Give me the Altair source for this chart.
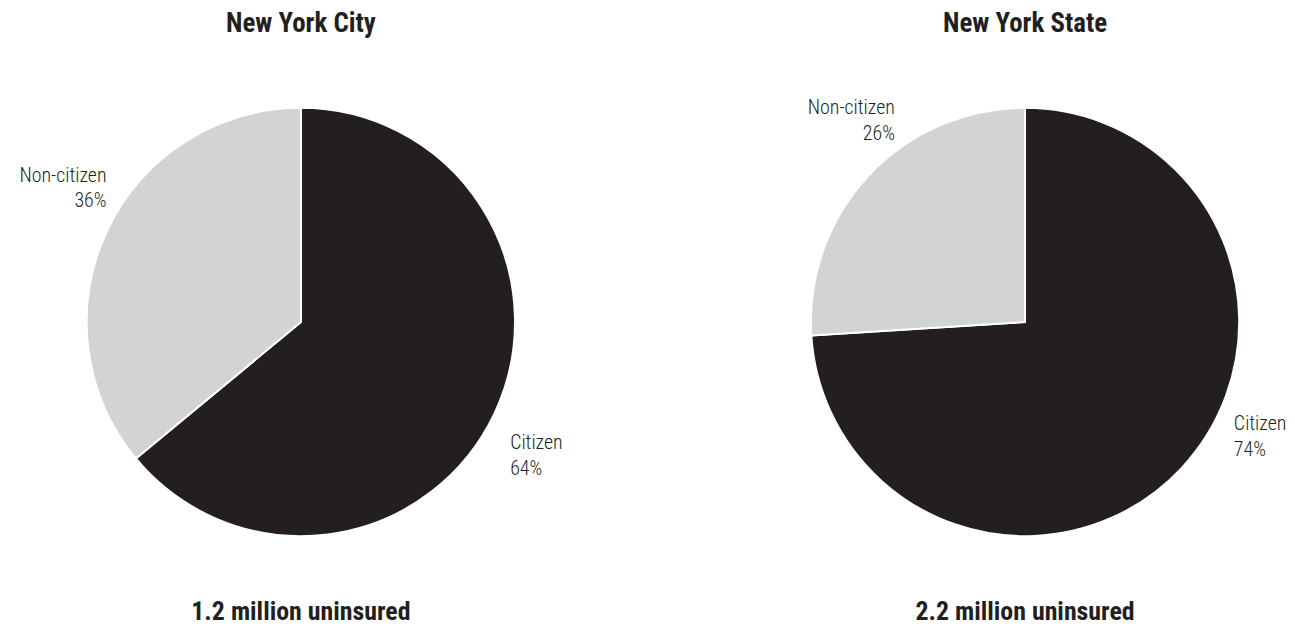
import altair as alt
import pandas as pd

regions = ["New York City", "New York State"]
categories = ["Citizen", "Non-citizen"]
nyc_values = [64, 36]
nys_values = [74, 26]
totals = ["1.2 million uninsured", "2.2 million uninsured"]
colors = ["#231f20", "#d1d3d4"]

FONT = "Roboto Condensed, Roboto, sans-serif"
CX, CY, R = 294, 313, 215
LR = 230
H = 600
widths = {"New York City": 552, "New York State": 557}

# per-panel label nudges (dx, dy) for Citizen / Non-citizen
nudges = {
    "New York City": {"Citizen": (2, 24), "Non-citizen": (13, -49)},
    "New York State": {"Citizen": (42, -55), "Non-citizen": (37, -57)},
}


def panel(region, values, total):
    df = pd.DataFrame({
        "category": categories,
        "value": values,
        "order": list(range(len(categories))),
    })
    df["label"] = df["category"] + "\n" + df["value"].astype(str) + "%"
    base = alt.Chart(df).encode(
        theta=alt.Theta("value:Q", stack=True),
        order=alt.Order("order:Q"),
        x=alt.value(CX),
        y=alt.value(CY),
    )
    arc = base.mark_arc(radius=R, stroke="white", strokeWidth=2).encode(
        color=alt.Color("category:N", scale=alt.Scale(domain=categories, range=colors), legend=None)
    )
    layers = [arc]
    for cat in categories:
        dx, dy = nudges[region][cat]
        t = base.mark_text(
            radius=LR, dx=dx, dy=dy, align="left" if cat == "Citizen" else "right",
            baseline="middle", lineBreak="\n", lineHeight=26, fontSize=20,
            font=FONT, fontWeight=300, color="#231f20",
        ).encode(text=alt.condition(alt.datum.category == cat, alt.Text("label:N"), alt.value("")))
        layers.append(t)
    head = alt.Chart(pd.DataFrame({"t": [region]})).mark_text(
        font=FONT, fontSize=27, fontWeight="bold", color="#231f20", baseline="middle"
    ).encode(text="t:N", x=alt.value(CX), y=alt.value(13.5))
    foot = alt.Chart(pd.DataFrame({"t": [total]})).mark_text(
        font=FONT, fontSize=26, fontWeight="bold", color="#231f20", baseline="middle"
    ).encode(text="t:N", x=alt.value(CX), y=alt.value(604))
    layers += [head, foot]
    return alt.layer(*layers).properties(width=widths[region], height=H)


chart = alt.hconcat(
    panel(regions[0], nyc_values, totals[0]),
    panel(regions[1], nys_values, totals[1]),
    spacing=170,
).properties(
    padding={"left": 0, "top": 0, "right": 0, "bottom": 0},
    background="white",
).configure_view(strokeWidth=0, stroke="transparent")

chart.save("out.html", embed_options={"renderer": "svg", "actions": False})
